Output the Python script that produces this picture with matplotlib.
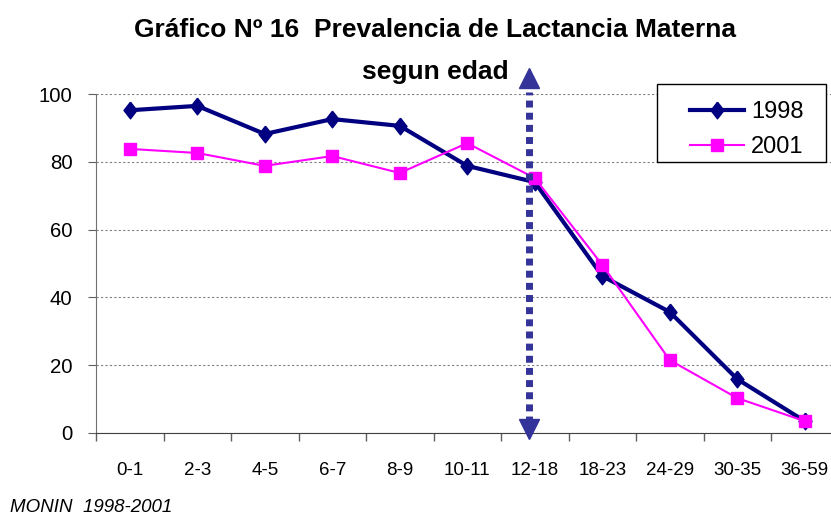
import matplotlib.pyplot as plt
from matplotlib.patches import Rectangle
import numpy as np

plt.rcParams['font.family'] = ['Liberation Sans', 'DejaVu Sans']

edades = ["0-1", "2-3", "4-5", "6-7", "8-9", "10-11", "12-18", "18-23", "24-29", "30-35", "36-59"]
v1998 = [95.2, 96.5, 88.2, 92.6, 90.6, 78.8, 74.0, 46.3, 35.7, 15.9, 3.5]
v2001 = [83.8, 82.6, 78.8, 81.7, 76.7, 85.5, 75.2, 49.6, 21.5, 10.3, 3.5]
yticks = [0, 20, 40, 60, 80, 100]
corte = "12-18"

W, H = 831, 520
fig = plt.figure(figsize=(W / 100, H / 100), dpi=100)
ax = fig.add_axes([96 / W, 87 / H, 742.5 / W, 339 / H])

rombo = [(0, 1), (0.78, 0), (0, -1), (-0.78, 0), (0, 1)]
x = np.arange(len(edades))
l1, = ax.plot(x, v1998, color="#000080", lw=3, marker=rombo, ms=12, label="1998", zorder=3)
l2, = ax.plot(x, v2001, color="#FF00FF", lw=1.5, marker="s", ms=8, label="2001", zorder=4)

ax.set_xlim(-0.5, len(edades) - 0.5)
ax.set_ylim(0, 100)
ax.set_yticks(yticks)
ax.set_xticks(x)
ax.set_xticklabels(edades, fontsize=13.5)
ax.set_xticks(np.arange(len(edades) + 1) - 0.5, minor=True)
ax.tick_params(axis="x", which="major", length=0, pad=21)
ax.tick_params(axis="x", which="minor", length=6, width=1, color="#606060")
ax.tick_params(axis="y", labelsize=14.7, length=6, pad=11, color="#606060")
ax.grid(axis="y", color="#808080", ls=(0, (2, 2)), lw=0.8)
ax.spines["top"].set_visible(False)
ax.spines["right"].set_visible(False)
ax.spines["left"].set_color("#707070")
ax.spines["bottom"].set_color("#404040")

# flecha punteada en 12-18
xc = edades.index(corte) - 0.08
col_f = "#333399"
ax.plot([xc, xc], [3, 100.5], color=col_f, lw=5, ls=(0, (1, 0.75)),
        solid_capstyle="butt", dash_capstyle="butt", clip_on=False, zorder=5)
ax.plot([xc], [104.8], marker="^", ms=14, color=col_f, clip_on=False, zorder=5)
ax.plot([xc], [1.3], marker="v", ms=14, color=col_f, clip_on=False, zorder=5)

# leyenda con marco fijo
fig.patches.append(Rectangle((657 / W, (H - 162) / H), 169 / W, 78 / H,
                             transform=fig.transFigure, facecolor="white",
                             edgecolor="black", lw=1, zorder=6))
leg = fig.legend(handles=[l1, l2], loc="upper left", bbox_to_anchor=(678 / W, (H - 89) / H),
                 bbox_transform=fig.transFigure, fontsize=17, frameon=False,
                 borderpad=0, handlelength=2.3, handletextpad=0.3, labelspacing=0.55)
leg.set_zorder(7)

fig.text(435 / W, 1 - 30 / H, "Gráfico Nº 16  Prevalencia de Lactancia Materna",
         ha="center", va="center", fontsize=19, fontweight="bold")
fig.text(435 / W, 1 - 72 / H, "segun edad", ha="center", va="center", fontsize=19, fontweight="bold")
fig.text(10 / W, 1 - 508 / H, "MONIN  1998-2001", ha="left", va="center", fontsize=13.5, style="italic")

fig.savefig("out.png", dpi=100)
